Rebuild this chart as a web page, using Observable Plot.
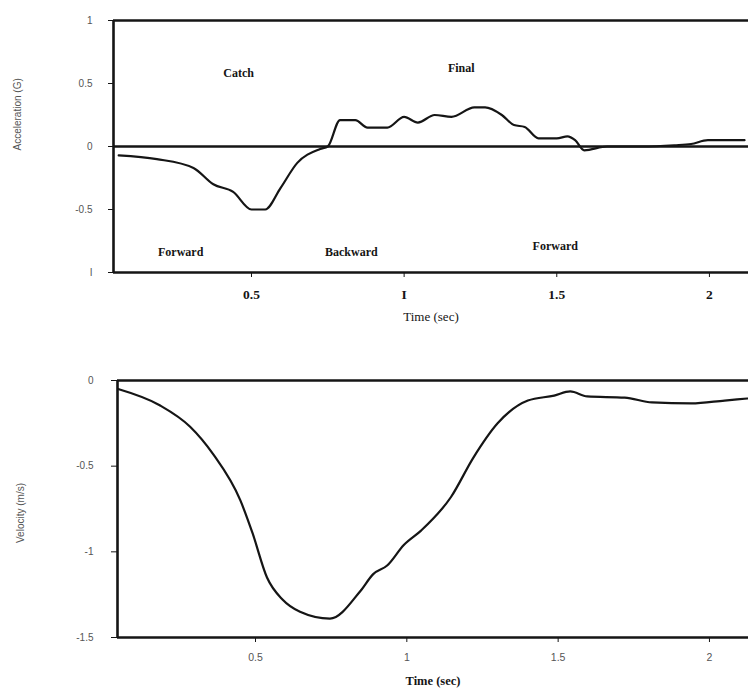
<!DOCTYPE html>
<html>
<head>
<meta charset="utf-8">
<script src="https://cdn.jsdelivr.net/npm/d3@7"></script>
<script src="https://cdn.jsdelivr.net/npm/@observablehq/plot@0.6"></script>
<style>
  html, body { margin: 0; padding: 0; background: #fff; }
  #chart svg { display: block; }
</style>
</head>
<body>
<div id="chart"></div>
<script>
// ---- Data ----
const accTime = [0.065, 0.19, 0.31, 0.375, 0.44, 0.50, 0.545, 0.595, 0.65, 0.725, 0.75, 0.79, 0.84, 0.88, 0.945, 1.0, 1.045, 1.10, 1.155, 1.23, 1.265, 1.32, 1.36, 1.395, 1.44, 1.50, 1.535, 1.56, 1.59, 1.665, 1.78, 1.885, 1.94, 1.995, 2.115];
const accValue = [-0.07, -0.10, -0.17, -0.30, -0.36, -0.50, -0.50, -0.33, -0.13, -0.02, 0.0, 0.21, 0.21, 0.15, 0.15, 0.235, 0.19, 0.25, 0.235, 0.31, 0.31, 0.25, 0.17, 0.155, 0.065, 0.065, 0.08, 0.05, -0.03, 0.0, 0.0, 0.01, 0.02, 0.05, 0.05];

const velTime = [0.046, 0.185, 0.284, 0.36, 0.45, 0.49, 0.538, 0.59, 0.647, 0.746, 0.846, 0.889, 0.935, 0.99, 1.047, 1.146, 1.22, 1.30, 1.40, 1.487, 1.54, 1.596, 1.72, 1.81, 1.94, 2.05, 2.125];
const velValue = [-0.05, -0.146, -0.27, -0.43, -0.70, -0.89, -1.15, -1.28, -1.35, -1.39, -1.23, -1.13, -1.08, -0.96, -0.876, -0.68, -0.45, -0.25, -0.117, -0.088, -0.064, -0.093, -0.10, -0.128, -0.134, -0.117, -0.105];

const phaseLabels = ["Catch", "Final", "Forward", "Backward", "Forward"];
const phaseTime = [0.458, 1.187, 0.268, 0.827, 1.495];
const phaseValue = [0.58, 0.62, -0.84, -0.84, -0.79];

const accYTicks = [1, 0.5, 0, -0.5, -1];
const accYTickLabels = ["1", "0.5", "0", "-0.5", "I"];
const accXTicks = [0.5, 1, 1.5, 2];
const accXTickLabels = ["0.5", "I", "1.5", "2"];
const accFrameLines = [1, 0, -1];
const accXDomain = [0.048, 2.128];
const accYDomain = [-1, 1];

const velYTicks = [0, -0.5, -1, -1.5];
const velYTickLabels = ["0", "-0.5", "-1", "-1.5"];
const velXTicks = [0.5, 1, 1.5, 2];
const velXTickLabels = ["0.5", "1", "1.5", "2"];
const velFrameLines = [0, -1.5];
const velXDomain = [0.044, 2.129];
const velYDomain = [-1.5, 0];

const xTitle = "Time (sec)";
const accYTitle = "Acceleration (G)";
const velYTitle = "Velocity (m/s)";

// ---- Build tables ----
const acc = accTime.map((t, i) => ({t, v: accValue[i]}));
const vel = velTime.map((t, i) => ({t, v: velValue[i]}));
const phases = phaseLabels.map((label, i) => ({label, t: phaseTime[i], v: phaseValue[i]}));
const fmt = (ticks, labels) => d => labels[ticks.indexOf(d)];

const ink = "#151515";
const serif = "'Liberation Serif', 'DejaVu Serif', serif";
const sans = "'Liberation Sans', 'DejaVu Sans', sans-serif";

const accChart = Plot.plot({
  width: 748, height: 345,
  marginLeft: 113, marginRight: 0, marginTop: 20, marginBottom: 73,
  style: {background: "#fff", overflow: "visible"},
  x: {domain: accXDomain},
  y: {domain: accYDomain},
  marks: [
    Plot.ruleY(accFrameLines, {stroke: ink, strokeWidth: 2.6}),
    Plot.ruleX([accXDomain[0]], {stroke: ink, strokeWidth: 2.6}),
    Plot.axisY({ticks: accYTicks, tickFormat: fmt(accYTicks, accYTickLabels), tickSize: 5, tickPadding: 16,
      fontSize: 10, fontFamily: sans, color: "#555", stroke: ink, label: null}),
    Plot.axisX({ticks: accXTicks, tickFormat: fmt(accXTicks, accXTickLabels), tickSize: 5, tickPadding: 12,
      fontSize: 13.5, fontWeight: "bold", fontFamily: serif, color: ink, stroke: ink, label: null}),
    Plot.line(acc, {x: "t", y: "v", stroke: ink, strokeWidth: 2.2, curve: "monotone-x"}),
    Plot.text(phases, {x: "t", y: "v", text: "label", fontFamily: serif, fontWeight: "bold", fontSize: 12, fill: ink}),
    Plot.text([xTitle], {frameAnchor: "bottom", dy: 48, fontFamily: serif, fontSize: 13, fill: ink}),
    Plot.text([accYTitle], {frameAnchor: "left", dx: -96, dy: 4, rotate: -90, fontFamily: sans, fontSize: 10, fill: "#555"})
  ]
});

const velChart = Plot.plot({
  width: 748, height: 346,
  marginLeft: 117, marginRight: 0, marginTop: 35, marginBottom: 54,
  style: {background: "#fff", overflow: "visible"},
  x: {domain: velXDomain},
  y: {domain: velYDomain},
  marks: [
    Plot.ruleY(velFrameLines, {stroke: ink, strokeWidth: 2.6}),
    Plot.ruleX([velXDomain[0]], {stroke: ink, strokeWidth: 2.6}),
    Plot.axisY({ticks: velYTicks, tickFormat: fmt(velYTicks, velYTickLabels), tickSize: 6, tickPadding: 18,
      fontSize: 10, fontFamily: sans, color: "#555", stroke: ink, label: null}),
    Plot.axisX({ticks: velXTicks, tickFormat: fmt(velXTicks, velXTickLabels), tickSize: 5, tickPadding: 11,
      fontSize: 10.5, fontFamily: sans, color: "#555", stroke: ink, label: null}),
    Plot.line(vel, {x: "t", y: "v", stroke: ink, strokeWidth: 2.2, curve: "monotone-x"}),
    Plot.text([xTitle], {frameAnchor: "bottom", dy: 47, fontFamily: serif, fontWeight: "bold", fontSize: 12.5, fill: ink}),
    Plot.text([velYTitle], {frameAnchor: "left", dx: -97, dy: 34, rotate: -90, fontFamily: sans, fontSize: 10, fill: "#555"})
  ]
});

document.getElementById("chart").append(accChart, velChart);
</script>
</body>
</html>
